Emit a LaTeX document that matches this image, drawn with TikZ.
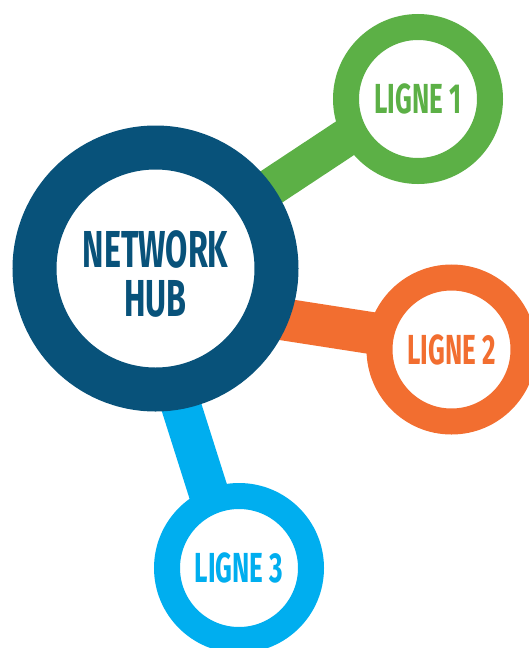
\documentclass[tikz,border=0pt]{standalone}
\usepackage{fontspec}
\newfontfamily\hubfont[FakeStretch=0.62]{Fira Sans}
\definecolor{hubblue}{RGB}{8,82,122}
\definecolor{lgreen}{RGB}{92,176,70}
\definecolor{lorange}{RGB}{242,110,48}
\definecolor{lblue}{RGB}{0,174,239}
\usetikzlibrary{backgrounds}

\begin{document}
\begin{tikzpicture}[x=1pt,y=-1pt,
    hubring/.style={circle,draw=hubblue,fill=white,line width=44pt,
                    minimum size=242pt,inner sep=0pt},
    hubtext/.style={align=center,text=hubblue,
                    font=\hubfont\bfseries\fontsize{52}{49}\selectfont},
    ring/.style={circle,draw=#1,fill=white,line width=26pt,
                 minimum size=144pt,inner sep=0pt,text=#1,
                 font=\hubfont\bfseries\fontsize{42}{42}\selectfont},
    link/.style={draw=#1,line width=40pt}]
  \useasboundingbox (0,0) rectangle (529,648);
  \node[hubring] (hub) at (155.5,268.5) {};
  \node[hubtext] (hubname) at ([yshift=-5pt]hub.center) {NETWORK\\HUB};
  \node[ring=lgreen] (l1) at (418,99) {LIGNE 1};
  \node[ring=lorange] (l2) at (451.5,349.5) {LIGNE 2};
  \node[ring=lblue] (l3) at (239,568) {LIGNE 3};
  \begin{pgfonlayer}{background}
    \draw[link=lgreen,line width=38pt] ([yshift=5pt]hub.center) -- ([yshift=9pt]l1.center);
    \draw[link=lorange,line width=42pt] ([yshift=-31pt]hub.center) -- ([yshift=4pt]l2.center);
    \draw[link=lblue] ([xshift=-18pt]hub.center) -- ([xshift=-6.5pt]l3.center);
  \end{pgfonlayer}
\end{tikzpicture}
\end{document}
